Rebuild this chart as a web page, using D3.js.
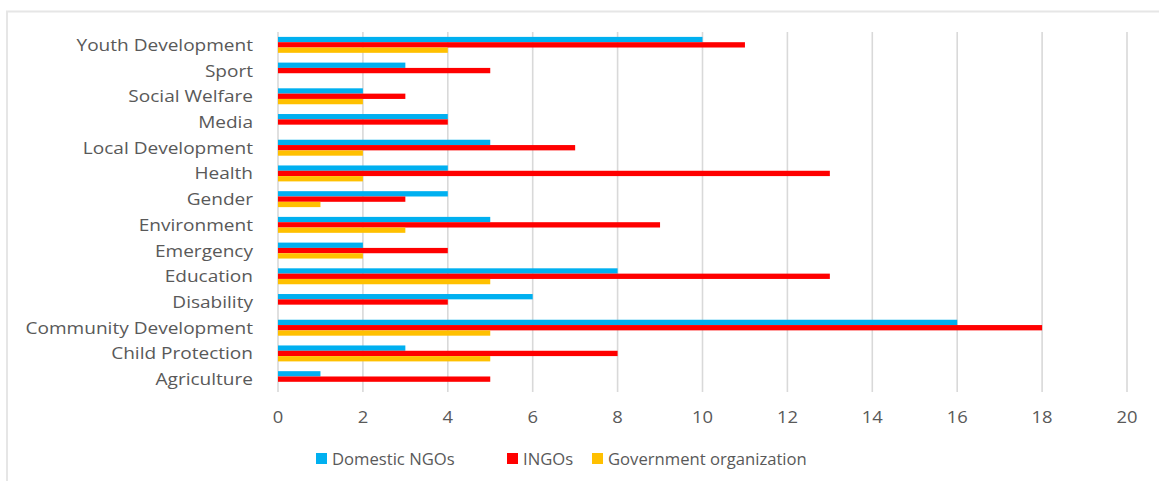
<!DOCTYPE html>
<html>
<head>
<meta charset="utf-8">
<script src="https://cdn.jsdelivr.net/npm/d3@7"></script>
<style>
  body { margin: 0; background: #fff; }
  text { font-family: "Open Sans", sans-serif; fill: #595959; }
</style>
</head>
<body>
<svg id="chart" width="1159" height="481"></svg>
<script>
// categories, top to bottom as drawn
var categories = ["Youth Development", "Sport", "Social Welfare", "Media", "Local Development",
  "Health", "Gender", "Environment", "Emergency", "Education", "Disability",
  "Community Development", "Child Protection", "Agriculture"]
var seriesNames = ["Domestic NGOs", "INGOs", "Government organization"]
var domesticNGOs = [10, 3, 2, 4, 5, 4, 4, 5, 2, 8, 6, 16, 3, 1]
var ingos        = [11, 5, 3, 4, 7, 13, 3, 9, 4, 13, 4, 18, 8, 5]
var govOrg       = [4, 0, 2, 0, 2, 2, 1, 3, 2, 5, 0, 5, 5, 0]
var xTicks = [0, 2, 4, 6, 8, 10, 12, 14, 16, 18, 20]
var colors = ["#00B0F0", "#FF0000", "#FFC000"]

var svg = d3.select("#chart")
var stretch = 1.15   // the picture is a bit wider than tall

// chart frame
svg.append("path")
  .attr("d", "M7,481 V11.5 H1159")
  .attr("fill", "none")
  .attr("stroke", "#e6e6e6")
  .attr("stroke-width", 2)

var plotLeft = 278, plotRight = 1127, plotTop = 32, plotBottom = 392

var x = d3.scaleLinear().domain([0, 20]).range([plotLeft, plotRight])
var y = d3.scaleBand().domain(categories).range([plotTop, plotBottom]).paddingInner(0.38).paddingOuter(0.19)
var ySub = d3.scaleBand().domain(d3.range(3)).range([0, y.bandwidth()])

// gridlines
svg.selectAll(".grid")
  .data(xTicks)
  .join("line")
  .attr("class", "grid")
  .attr("x1", d => x(d)).attr("x2", d => x(d))
  .attr("y1", plotTop).attr("y2", plotBottom)
  .attr("stroke", "#d9d9d9")
  .attr("stroke-width", 1.6)

// bars
var allSeries = [domesticNGOs, ingos, govOrg]
var rows = []
allSeries.forEach((vals, s) => {
  vals.forEach((v, i) => rows.push({ cat: categories[i], s: s, v: v }))
})
svg.selectAll(".bar")
  .data(rows.filter(d => d.v > 0))
  .join("rect")
  .attr("class", "bar")
  .attr("x", x(0))
  .attr("y", d => y(d.cat) + ySub(d.s))
  .attr("width", d => x(d.v) - x(0))
  .attr("height", ySub.bandwidth())
  .attr("fill", d => colors[d.s])

// category labels
svg.selectAll(".cat-label")
  .data(categories)
  .join("text")
  .attr("class", "cat-label")
  .attr("text-anchor", "end")
  .attr("transform", d => `translate(253,${y(d) + y.bandwidth() / 2 + 6}) scale(1.19,1)`)
  .style("font-size", "16px")
  .text(d => d)

// tick labels
svg.selectAll(".tick-label")
  .data(xTicks)
  .join("text")
  .attr("class", "tick-label")
  .attr("text-anchor", "middle")
  .attr("transform", d => `translate(${x(d)},423) scale(${stretch},1)`)
  .style("font-size", "16px")
  .text(d => d)

// legend
var legendX = [316, 507, 592]
var legend = svg.selectAll(".legend")
  .data(seriesNames)
  .join("g")
  .attr("class", "legend")
  .attr("transform", (d, i) => `translate(${legendX[i]},459)`)
legend.append("rect")
  .attr("x", 0).attr("y", -6)
  .attr("width", 11).attr("height", 11)
  .attr("fill", (d, i) => colors[i])
legend.append("text")
  .attr("transform", "translate(16,6) scale(1.04,1)")
  .style("font-size", "16px")
  .text(d => d)
</script>
</body>
</html>
